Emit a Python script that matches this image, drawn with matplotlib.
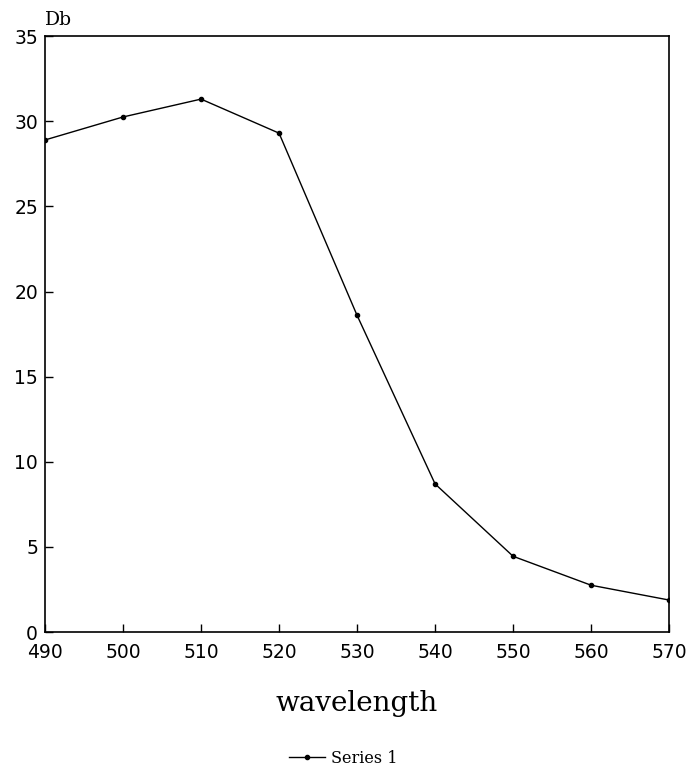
import matplotlib.pyplot as plt
from matplotlib.lines import Line2D

wavelength = [490, 500, 510, 520, 530, 540, 550, 560, 570]
db = [28.9, 30.25, 31.3, 29.3, 18.6, 8.7, 4.45, 2.75, 1.88]
xticks = [490, 500, 510, 520, 530, 540, 550, 560, 570]
yticks = [0, 5, 10, 15, 20, 25, 30, 35]

fig = plt.figure(figsize=(6.87, 7.68), dpi=100)
ax = fig.add_axes([0.0655, 0.177, 0.9085, 0.776])

ax.plot(wavelength, db, color='black', linewidth=1.0, marker='o', markersize=3)
ax.set_xlim(490, 570)
ax.set_ylim(0, 35)
ax.set_xticks(xticks)
ax.set_yticks(yticks)
ax.tick_params(direction='in', length=6, width=1, labelsize=13.5, pad=5)
ax.tick_params(axis='x', pad=8)
for s in ax.spines.values():
    s.set_linewidth(1.2)

ax.text(0, 1.012, 'Db', transform=ax.transAxes, fontsize=13.5, family='DejaVu Serif', va='bottom', ha='left')
ax.set_xlabel('wavelength', fontsize=20, family='DejaVu Serif', labelpad=20)

handle = Line2D([], [], color='black', linewidth=1.0, marker='o', markersize=3)
fig.legend([handle], ['Series 1'], loc='lower center', bbox_to_anchor=(0.5, -0.017), frameon=False,
           prop={'family': 'DejaVu Serif', 'size': 11.5}, handlelength=2.2, handletextpad=0.4)

fig.savefig('out.png', dpi=100)
